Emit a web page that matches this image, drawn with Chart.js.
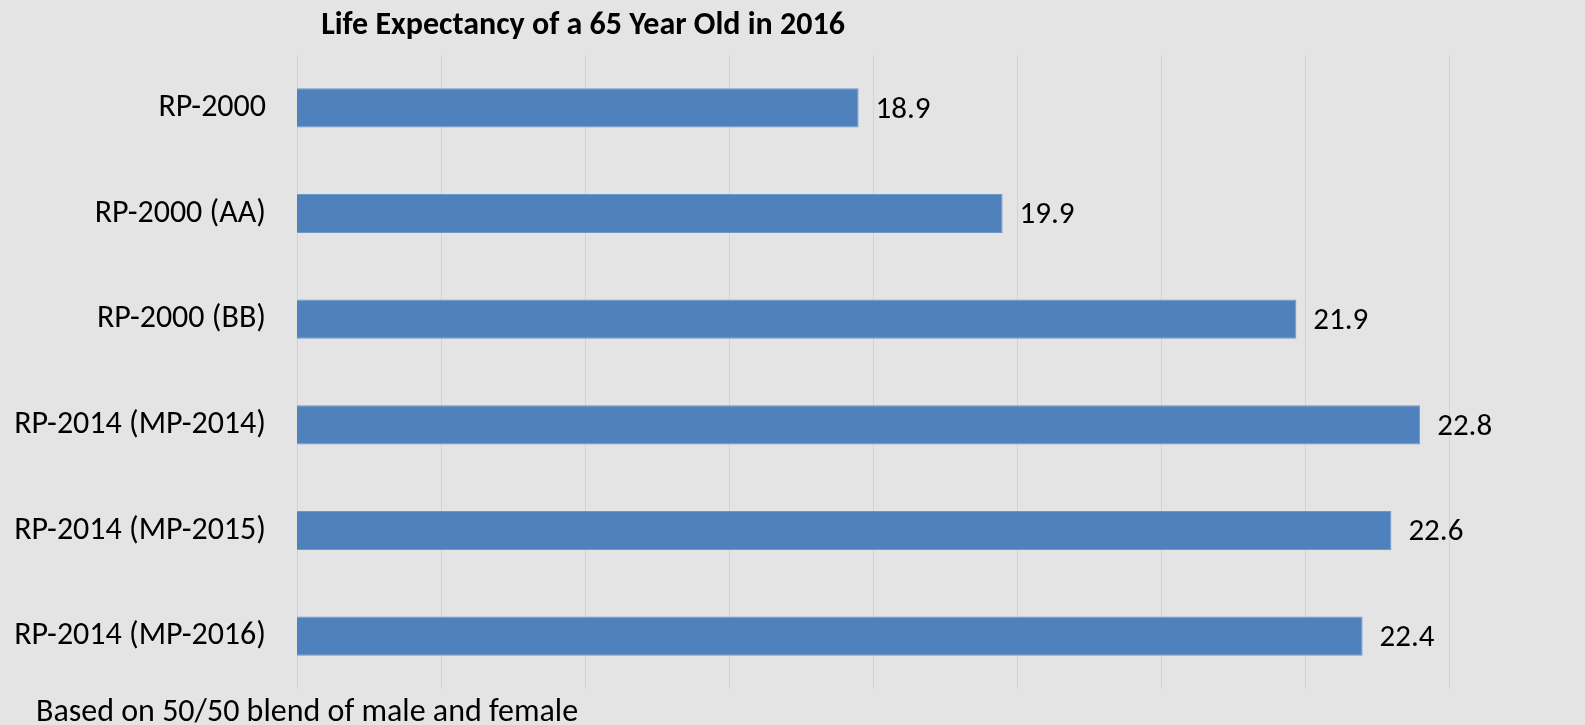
<!DOCTYPE html>
<html>
<head>
<meta charset="utf-8">
<script src="https://cdn.jsdelivr.net/npm/chart.js@4.4.0/dist/chart.umd.min.js"></script>
<style>
  html, body { margin: 0; padding: 0; background: #e4e4e4; }
  #wrap { width: 1585px; height: 725px; position: relative; }
</style>
</head>
<body>
<div id="wrap"><canvas id="chart"></canvas></div>
<script>
// ---- data ----
const categories = [
  "RP-2000",
  "RP-2000 (AA)",
  "RP-2000 (BB)",
  "RP-2014 (MP-2014)",
  "RP-2014 (MP-2015)",
  "RP-2014 (MP-2016)"
];
const lifeExpectancy = [18.9, 19.9, 21.94, 22.8, 22.6, 22.4];
const axisMin = 15;
const axisMax = 23;

const TITLE = "Life Expectancy of a 65 Year Old in 2016";
const FOOTNOTE = "Based on 50/50 blend of male and female";
const FONT = "Carlito, Calibri, 'Open Sans', sans-serif";

// draws value labels, title and footnote
const extrasPlugin = {
  id: "extras",
  afterDatasetsDraw(chart){
    const ctx = chart.ctx;
    const meta = chart.getDatasetMeta(0);
    ctx.save();
    ctx.fillStyle = "#000";
    ctx.font = "31px " + FONT;
    ctx.textAlign = "left";
    ctx.textBaseline = "middle";
    meta.data.forEach((bar, i) => {
      ctx.fillText(lifeExpectancy[i].toFixed(1), bar.x + 17, bar.y + 2);
    });
    ctx.font = "bold 32px " + FONT;
    ctx.textAlign = "center";
    ctx.fillText(TITLE, 583, 26);
    ctx.font = "32px " + FONT;
    ctx.textAlign = "left";
    ctx.fillText(FOOTNOTE, 36, 713);
    ctx.restore();
  }
};

new Chart(document.getElementById("chart"), {
  type: "bar",
  data: {
    labels: categories,
    datasets: [{
      data: lifeExpectancy,
      backgroundColor: "#4f81bd",
      borderColor: "#6f97c8",
      borderWidth: 1,
      borderSkipped: "start",
      categoryPercentage: 0.74,
      barPercentage: 0.5
    }]
  },
  options: {
    indexAxis: "y",
    responsive: true,
    maintainAspectRatio: false,
    animation: false,
    layout: { padding: { top: 55, bottom: 36, right: 136, left: 0 } },
    plugins: {
      legend: { display: false },
      title: { display: false },
      tooltip: { enabled: false }
    },
    scales: {
      x: {
        min: axisMin,
        max: axisMax,
        ticks: { display: false, stepSize: 1 },
        grid: { color: "#d3d3d3", lineWidth: 1, drawTicks: false },
        border: { display: false },
        afterFit(scale){ scale.height = 0; scale.paddingLeft = 0; scale.paddingRight = 0; }
      },
      y: {
        ticks: { color: "#000", font: { family: FONT, size: 32 }, padding: 31 },
        grid: { display: false, drawTicks: false },
        border: { display: false },
        afterFit(scale){ scale.width = 297; scale.paddingTop = 0; scale.paddingBottom = 0; }
      }
    }
  },
  plugins: [extrasPlugin]
});
</script>
</body>
</html>
